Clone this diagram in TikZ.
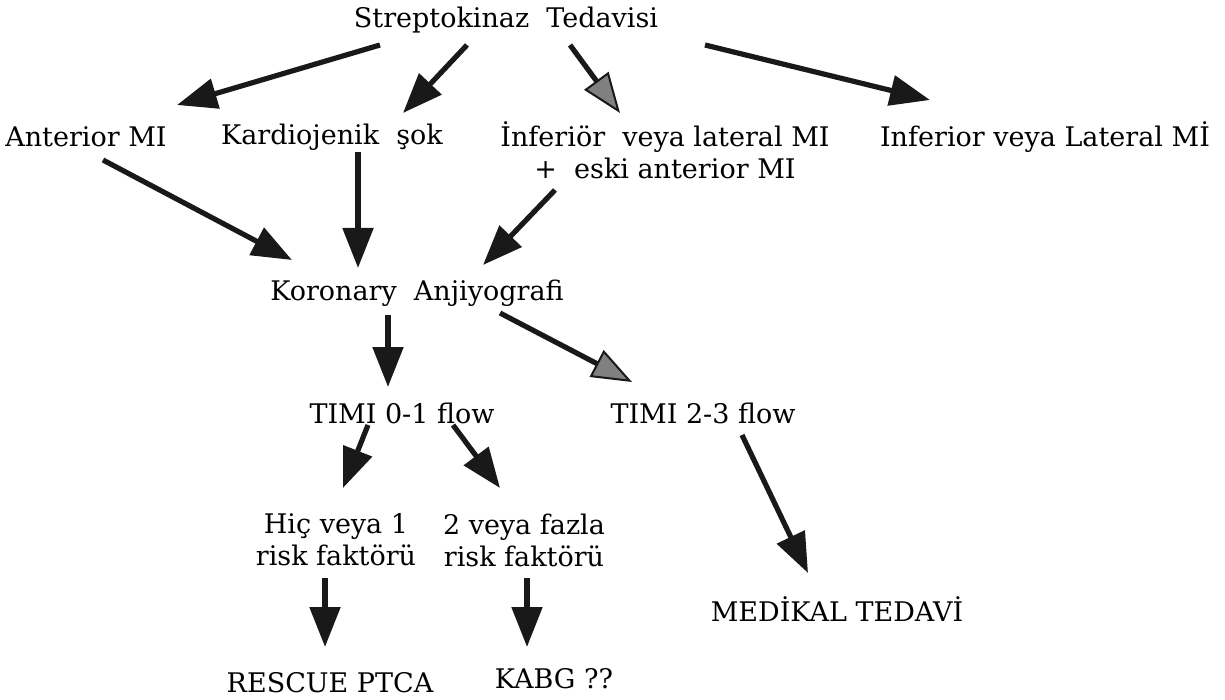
\documentclass[tikz,border=0pt]{standalone}
\usepackage{fontspec}
\setmainfont{DejaVu Serif}
\usepackage{tikz}
\usetikzlibrary{arrows.meta,positioning,calc}

\begin{document}
\begin{tikzpicture}[x=0.5pt,y=-0.5pt,
	every node/.style={font=\fontsize{13.5}{16}\selectfont,inner sep=0pt,align=center},
	arr/.style={line width=2.6pt,color=black!90,-{Triangle[length=20pt,width=15pt]}},
	garr/.style={line width=2.6pt,color=black!90,-{Triangle[length=20pt,width=15pt,fill=gray,line width=1pt]}}]
\useasboundingbox (0,0) rectangle (1225,700);

	\node (strep) at (506,20) {Streptokinaz\ \ Tedavisi};
	\node (ant) at (86,137) {Anterior MI};
	\node (kard) at (332,137) {Kardiojenik\ \ şok};
	\node (infl) at (665,150) {İnferiör\ \ veya lateral MI\\+\ \ eski anterior MI};
	\node (infr) at (1045,137) {Inferior veya Lateral Mİ};
	\node (kor) at (417,293) {Koronary\ \ Anjiyografi};
	\node (timi1) at (402,413) {TIMI 0-1 flow};
	\node (timi2) at (703,413) {TIMI 2-3 flow};
	\node (hic) at (336,540) {Hiç veya 1\\risk faktörü};
	\node (fazla) at (524,540) {2 veya fazla\\risk faktörü};
	\node (med) at (837,609) {MEDİKAL TEDAVİ};
	\node (rescue) at (330,683) {RESCUE PTCA};
	\node (kabg) at (554,679) {KABG ??};

	\draw[arr] ([shift={(-126,25)}]strep.center) -- ([shift={(91,-32)}]ant.center);
	\draw[arr] ([shift={(-39,25)}]strep.center) -- ([shift={(71,-24)}]kard.center);
	\draw[garr] ([shift={(64,25)}]strep.center) -- ([shift={(-45,-37)}]infl.center);
	\draw[arr] ([shift={(199,25)}]strep.center) -- ([shift={(-115,-37)}]infr.center);

	\draw[arr] ([shift={(17,23)}]ant.center) -- ([shift={(-125,-33)}]kor.center);
	\draw[arr] ([shift={(26,15)}]kard.center) -- ([shift={(-59,-25)}]kor.center);
	\draw[arr] ([shift={(-110,40)}]infl.center) -- ([shift={(66,-28)}]kor.center);

	\draw[arr] ([shift={(-29,22)}]kor.center) -- ([shift={(-14,-26)}]timi1.center);
	\draw[garr] ([shift={(83,20)}]kor.center) -- ([shift={(-71,-31)}]timi2.center);

	\draw[arr] ([shift={(-34,12)}]timi1.center) -- ([shift={(7,-52)}]hic.center);
	\draw[arr] ([shift={(51,12)}]timi1.center) -- ([shift={(-24,-52)}]fazla.center);
	\draw[arr] ([shift={(39,22)}]timi2.center) -- ([shift={(-29,-36)}]med.center);

	\draw[arr] ([shift={(-11,38)}]hic.center) -- ([shift={(-5,-36)}]rescue.center);
	\draw[arr] ([shift={(3,38)}]fazla.center) -- ([shift={(-27,-32)}]kabg.center);

\end{tikzpicture}
\end{document}
